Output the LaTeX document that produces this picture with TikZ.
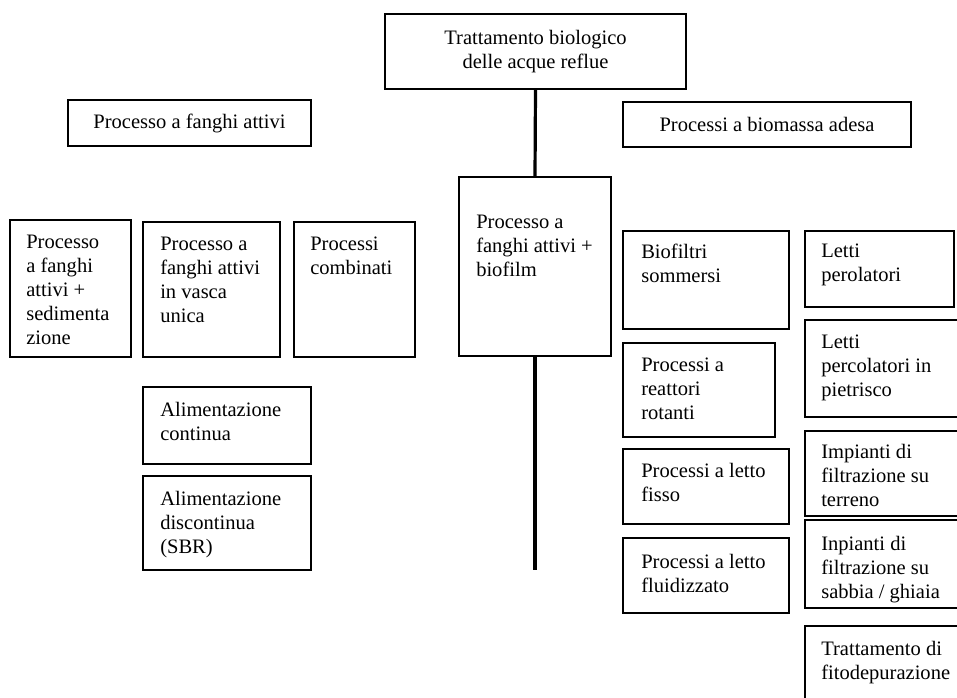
\documentclass[tikz,border=0pt]{standalone}
\usepackage{fontspec}
\setmainfont{Liberation Serif}
\usetikzlibrary{fit}

\begin{document}
\begin{tikzpicture}[x=0.75pt,y=-0.75pt,
    box/.style={draw, line width=0.9pt, inner sep=0pt},
    lbl/.style={anchor=north west, align=left, inner sep=0pt, font=\fontsize{15.4}{18}\selectfont},
    ttl/.style={align=center, inner sep=0pt, font=\fontsize{15.4}{18}\selectfont},
    stem/.style={line width=2.4pt}]
    \useasboundingbox (0,0) rectangle (957,697);

    % root and the two families
    \node[box, fit={(385,14) (686,89)}] (root) {};
    \node[ttl] (root-t) at (root.center) {Trattamento biologico\\delle acque reflue};
    \node[box, fit={(68,100) (311,146)}] (fanghi) {};
    \node[ttl] (fanghi-t) at (fanghi.center) {Processo a fanghi attivi};
    \node[box, fit={(623,102) (911,147)}] (adesa) {};
    \node[ttl] (adesa-t) at (adesa.center) {Processi a biomassa adesa};

    % activated sludge side
    \node[box, fit={(10,220) (131,357)}] (sedim) {};
    \node[lbl] (sedim-t) at (26,235) {Processo\\a fanghi\\attivi +\\sedimenta\\zione};
    \node[box, fit={(143,222) (280,357)}] (vasca) {};
    \node[lbl] (vasca-t) at (160,237) {Processo a\\fanghi attivi\\in vasca\\unica};
    \node[box, fit={(294,222) (415,357)}] (comb) {};
    \node[lbl] (comb-t) at (310,237) {Processi\\combinati};
    \node[box, fit={(143,387) (311,464)}] (conti) {};
    \node[lbl] (conti-t) at (160,402) {Alimentazione\\continua};
    \node[box, fit={(143,476) (311,570)}] (disco) {};
    \node[lbl] (disco-t) at (160,491) {Alimentazione\\discontinua\\(SBR)};

    % middle
    \node[box, fit={(459,177) (611,356)}] (biofilm) {};
    \node[lbl] (biofilm-t) at (476,215) {Processo a\\fanghi attivi +\\biofilm};
    \coordinate (stemend) at (535,570);
    \draw[stem] (root.south) -- (biofilm.north);
    \draw[stem] (biofilm.south) -- (stemend);

    % attached biomass side
    \node[box, fit={(623,231) (789,329)}] (biofiltri) {};
    \node[lbl] (biofiltri-t) at (641,244) {Biofiltri\\sommersi};
    \node[box, fit={(623,343) (775,437)}] (rotanti) {};
    \node[lbl] (rotanti-t) at (641,358) {Processi a\\reattori\\rotanti};
    \node[box, fit={(623,449) (789,524)}] (fisso) {};
    \node[lbl] (fisso-t) at (641,463) {Processi a letto\\fisso};
    \node[box, fit={(623,538) (789,613)}] (fluido) {};
    \node[lbl] (fluido-t) at (641,554) {Processi a letto\\fluidizzato};

    \node[box, fit={(805,231) (954,307)}] (perol) {};
    \node[lbl] (perol-t) at (821,244) {Letti\\perolatori};
    \node[box, fit={(805,320) (962,417)}] (pietr) {};
    \node[lbl] (pietr-t) at (821,335) {Letti\\percolatori in\\pietrisco};
    \node[box, fit={(805,431) (962,516)}] (terreno) {};
    \node[lbl] (terreno-t) at (821,444) {Impianti di\\filtrazione su\\terreno};
    \node[box, fit={(805,520) (962,608)}] (sabbia) {};
    \node[lbl] (sabbia-t) at (821,536) {Inpianti di\\filtrazione su\\sabbia / ghiaia};
    \node[box, fit={(805,626) (962,705)}] (fito) {};
    \node[lbl] (fito-t) at (821,641) {Trattamento di\\fitodepurazione};
\end{tikzpicture}
\end{document}
